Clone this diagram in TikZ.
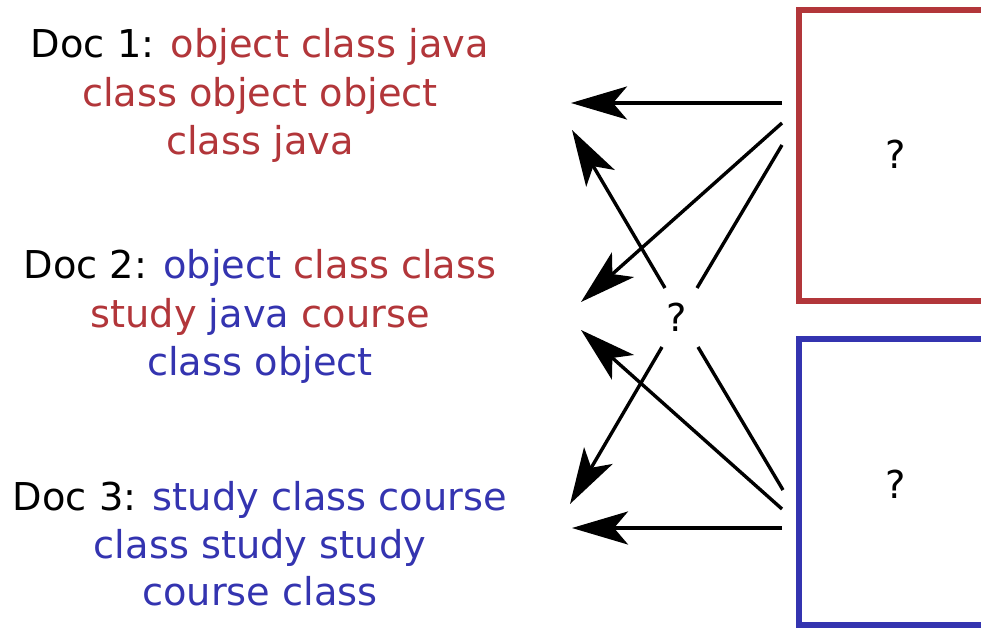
\documentclass[tikz,border=0pt]{standalone}
\usepackage{fontspec}
\setmainfont{DejaVu Sans}
\usetikzlibrary{arrows.meta}
\definecolor{termred}{RGB}{178,54,58}
\definecolor{termblue}{RGB}{52,52,176}
\newcommand{\rw}[1]{\textcolor{termred}{#1}}
\newcommand{\bw}[1]{\textcolor{termblue}{#1}}

\begin{document}
\begin{tikzpicture}[x=1bp,y=-1bp,
  txt/.style={anchor=base, inner sep=0, font=\fontsize{38.5}{48.5}\selectfont},
  topicbox/.style={draw=#1, line width=6bp, inner sep=0, outer sep=0,
    anchor=north west, minimum width=230bp},
  link/.style={line width=3.4bp, -{Stealth[length=56bp,width=33bp,inset=14bp]}},
  plain/.style={line width=3.4bp}]
\useasboundingbox (0,0) rectangle (981,628);
\clip (0,0) rectangle (981,628);

% documents
\node[txt] (d1a) at (260,58)    {Doc 1: \rw{object class java}};
\node[txt] (d1b) at (260,106.5) {\rw{class object object}};
\node[txt] (d1c) at (260,155)   {\rw{class java}};

\node[txt] (d2a) at (260,279)   {Doc 2: \bw{object} \rw{class class}};
\node[txt] (d2b) at (260,327)   {\rw{study} \bw{java} \rw{course}};
\node[txt] (d2c) at (260,375)   {\bw{class object}};

\node[txt] (d3a) at (260,510)   {Doc 3: \bw{study class course}};
\node[txt] (d3b) at (260,558)   {\bw{class study study}};
\node[txt] (d3c) at (260,605.5) {\bw{course class}};

% topics
\node[topicbox=termred, minimum height=290.2bp] (ta) at (799,10.3) {};
\node[topicbox=termblue, minimum height=286bp] (tb) at (799,338.7) {};
\node[txt] (qa) at (895.5,169) {?};
\node[txt] (qb) at (895.5,498) {?};

% unknown middle assignment
\node[txt] (mid) at (677,331) {?};

% connector ends
\coordinate (a1) at (782,103);
\coordinate (a2) at (782,123);
\coordinate (a3) at (782,145);
\coordinate (b1) at (783,490);
\coordinate (b2) at (782,509);
\coordinate (b3) at (782,528);
\coordinate (m1) at (697,288);
\coordinate (m2) at (665,288);
\coordinate (m3) at (662,347);
\coordinate (m4) at (698,347);
\coordinate (e1) at (571,103);
\coordinate (e1b) at (572,130);
\coordinate (e2) at (581,302);
\coordinate (e2b) at (581,330);
\coordinate (e3) at (570,504);
\coordinate (e3b) at (572,528);

\draw[link] (a1) -- (e1);
\draw[link] (a2) -- (e2);
\draw[plain] (a3) -- (m1);
\draw[link] (m2) -- (e1b);
\draw[link] (m3) -- (e3);
\draw[plain] (m4) -- (b1);
\draw[link] (b2) -- (e2b);
\draw[link] (b3) -- (e3b);
\end{tikzpicture}
\end{document}
